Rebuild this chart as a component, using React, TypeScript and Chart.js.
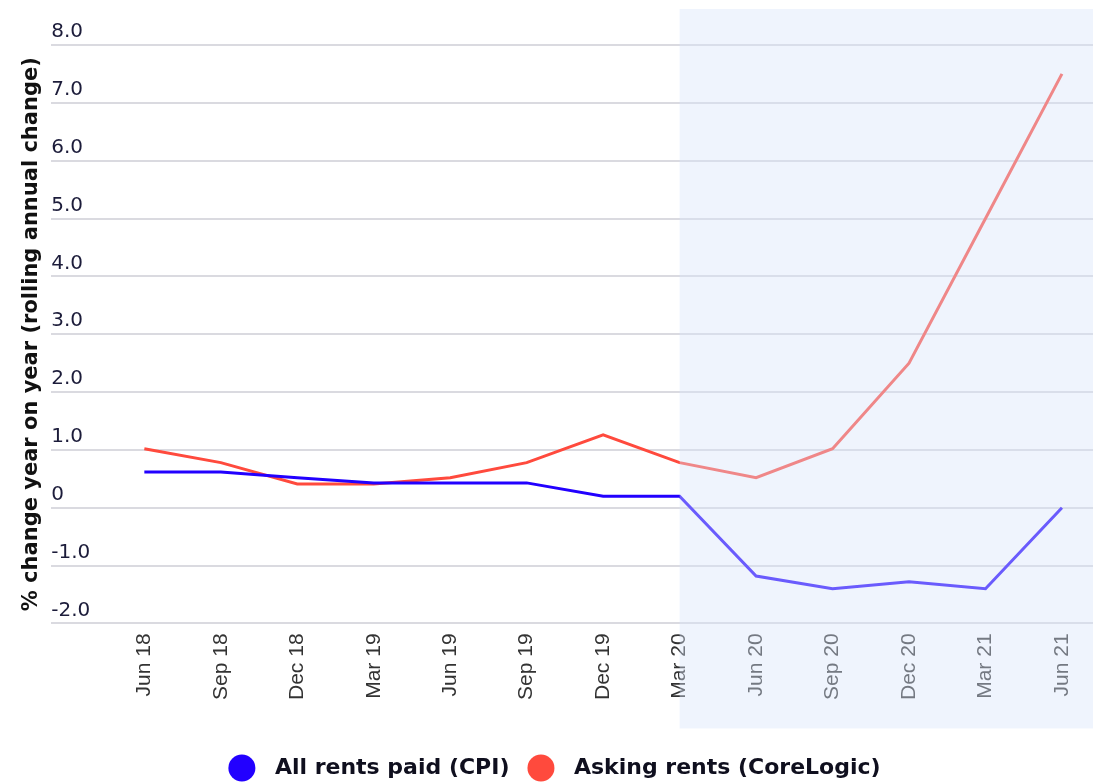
import React, { useEffect, useRef } from "react";
import { Chart, registerables } from "chart.js";

Chart.register(...registerables);

const CATEGORIES = ["Jun 18", "Sep 18", "Dec 18", "Mar 19", "Jun 19", "Sep 19", "Dec 19", "Mar 20", "Jun 20", "Sep 20", "Dec 20", "Mar 21", "Jun 21"];
const CPI = [0.62, 0.62, 0.52, 0.43, 0.43, 0.43, 0.2, 0.2, -1.18, -1.4, -1.28, -1.4, 0.0];
const CORELOGIC = [1.02, 0.78, 0.41, 0.41, 0.52, 0.78, 1.26, 0.78, 0.52, 1.02, 2.5, 5.0, 7.5];
const Y_TICKS = [-2, -1, 0, 1, 2, 3, 4, 5, 6, 7, 8];
const SHADE_FROM_INDEX = 7;

const BLUE = "#2200ff";
const RED = "#ff4a3d";
const LEGEND_FONT = "bold 22px 'DejaVu Sans'";

const shadePlugin = {
  id: "shade",
  afterDatasetsDraw(chart: any) {
    const { ctx, chartArea, scales } = chart;
    const x0 = scales.x.getPixelForValue(SHADE_FROM_INDEX);
    ctx.save();
    ctx.fillStyle = "rgba(215,228,250,0.4)";
    ctx.fillRect(x0, chartArea.top - 36, chart.width - x0, chartArea.bottom - chartArea.top + 36 + 105);
    ctx.restore();
  },
};

const legendPlugin = {
  id: "customLegend",
  afterDraw(chart: any) {
    const { ctx, width, height } = chart;
    const r = 13.5;
    const gapText = 33 - r; // from circle edge to text
    const gapItem = 18; // from text end to next circle edge
    ctx.save();
    ctx.font = LEGEND_FONT;
    const items = chart.data.datasets.map((d: any) => ({
      label: d.label,
      color: d.borderColor,
      w: ctx.measureText(d.label).width,
    }));
    let total = 0;
    items.forEach((it: any, i: number) => {
      total += 2 * r + gapText + it.w + (i < items.length - 1 ? gapItem : 0);
    });
    let x = width / 2 - total / 2 + 8;
    const cy = height - 14;
    items.forEach((it: any) => {
      ctx.beginPath();
      ctx.fillStyle = it.color;
      ctx.arc(x + r, cy, r, 0, Math.PI * 2);
      ctx.fill();
      x += 2 * r + gapText;
      ctx.fillStyle = "#0f0f1e";
      ctx.textBaseline = "middle";
      ctx.textAlign = "left";
      ctx.fillText(it.label, x, cy);
      x += it.w + gapItem;
    });
    ctx.restore();
  },
};

export default function App() {
  const ref = useRef<HTMLCanvasElement>(null);
  useEffect(() => {
    if (!ref.current) return;
    const chart = new Chart(ref.current, {
      type: "line",
      data: {
        datasets: [
          {
            label: "All rents paid (CPI)",
            data: CPI.map((y, i) => ({ x: i, y })),
            borderColor: BLUE,
            backgroundColor: BLUE,
            borderWidth: 3,
            pointRadius: 0,
            tension: 0,
          },
          {
            label: "Asking rents (CoreLogic)",
            data: CORELOGIC.map((y, i) => ({ x: i, y })),
            borderColor: RED,
            backgroundColor: RED,
            borderWidth: 3,
            pointRadius: 0,
            tension: 0,
          },
        ],
      },
      options: {
        responsive: false,
        animation: false,
        layout: { padding: { left: 8, top: 45, right: 0, bottom: 72 } },
        plugins: {
          tooltip: { enabled: false },
          legend: { display: false },
        },
        scales: {
          x: {
            type: "linear",
            min: -1.218,
            max: 12.406,
            afterBuildTicks: (scale: any) => {
              scale.ticks = CATEGORIES.map((_, i) => ({ value: i }));
            },
            afterFit: (scale: any) => {
              scale.paddingLeft = 0;
              scale.paddingRight = 0;
            },
            ticks: {
              autoSkip: false,
              minRotation: 90,
              maxRotation: 90,
              padding: 10,
              color: "#333333",
              font: { family: "Liberation Sans", size: 21 },
              callback: (v: any) => CATEGORIES[v] ?? "",
            },
            grid: { display: false, drawTicks: false },
            border: { display: false },
          },
          y: {
            min: -2,
            max: 8,
            afterBuildTicks: (scale: any) => {
              scale.ticks = Y_TICKS.map((v) => ({ value: v }));
            },
            ticks: {
              mirror: true,
              padding: 0,
              labelOffset: -13,
              color: "#1c1c3a",
              font: { family: "DejaVu Sans", size: 20 },
              callback: (v: any) => (v === 0 ? "0" : Number(v).toFixed(1)),
            },
            grid: { color: "#dadae0", lineWidth: 2, drawTicks: false },
            border: { display: false },
            title: {
              display: true,
              text: "% change year on year (rolling annual change)",
              color: "#111111",
              font: { family: "DejaVu Sans", size: 21, weight: "bold" },
              padding: { top: 11, bottom: 7 },
            },
          },
        },
      },
      plugins: [shadePlugin, legendPlugin],
    });
    return () => chart.destroy();
  }, []);
  return (
    <div style={{ position: "absolute", left: 0, top: 0, width: 1093, height: 782, overflow: "hidden", background: "#fff" }}>
      <canvas ref={ref} width={1093} height={782} style={{ display: "block" }} />
    </div>
  );
}
